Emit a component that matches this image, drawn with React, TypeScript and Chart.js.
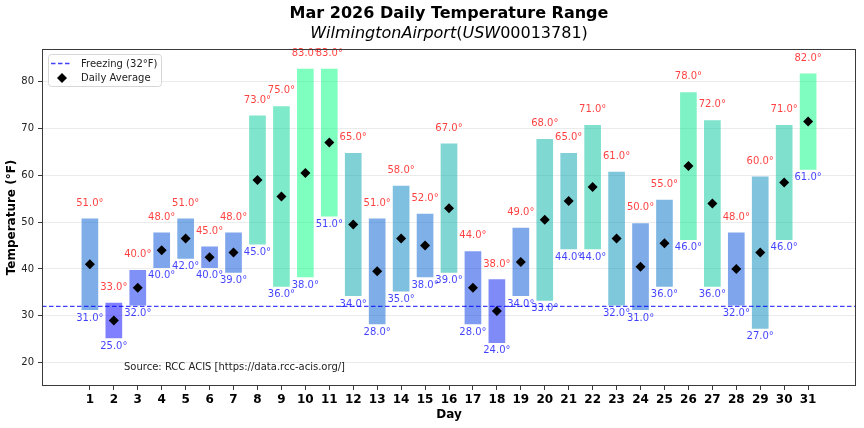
import React, { useEffect, useRef } from "react"
import { Chart, registerables } from "chart.js"

Chart.register(...registerables)

const days = [
  1, 2, 3, 4, 5, 6, 7, 8, 9, 10, 11, 12, 13, 14, 15, 16, 17, 18, 19, 20, 21,
  22, 23, 24, 25, 26, 27, 28, 29, 30, 31,
]
const highs = [
  51, 33, 40, 48, 51, 45, 48, 73, 75, 83, 83, 65, 51, 58, 52, 67, 44, 38, 49,
  68, 65, 71, 61, 50, 55, 78, 72, 48, 60, 71, 82,
]
const lows = [
  31, 25, 32, 40, 42, 40, 39, 45, 36, 38, 51, 34, 28, 35, 38, 39, 28, 24, 34,
  33, 44, 44, 32, 31, 36, 46, 36, 32, 27, 46, 61,
]
const averages = [
  41, 29, 36, 44, 46.5, 42.5, 43.5, 59, 55.5, 60.5, 67, 49.5, 39.5, 46.5, 45,
  53, 36, 31, 41.5, 50.5, 54.5, 57.5, 46.5, 40.5, 45.5, 62, 54, 40, 43.5, 58.5,
  71.5,
]
const yTicks = [20, 30, 40, 50, 60, 70, 80]
const freezing = 32

const title = "Mar 2026 Daily Temperature Range"
// mathtext-style subtitle: letters italic, digits and brackets upright
const subtitleParts: [string, boolean][] = [
  ["WilmingtonAirport", true],
  ["(", false],
  ["USW", true],
  ["00013781)", false],
]
const sourceText = "Source: RCC ACIS [https://data.rcc-acis.org/]"

const FONT = "'DejaVu Sans', sans-serif"

// matplotlib "winter" colormap, normalised on the daily highs
const winter = (v: number, lo: number, hi: number, alpha: number) => {
  const t = Math.max(0, Math.min(1, (v - lo) / (hi - lo)))
  const g = Math.round(255 * t)
  const b = Math.round(255 * (1 - 0.5 * t))
  return `rgba(0, ${g}, ${b}, ${alpha})`
}

const decorPlugin = {
  id: "decor",
  afterDatasetDraw(chart: any, args: any) {
    if (args.meta.type !== "bar") return
    const { ctx, chartArea } = chart
    const y = chart.scales.y.getPixelForValue(freezing)
    ctx.save()
    ctx.strokeStyle = "rgba(0, 0, 255, 0.75)"
    ctx.lineWidth = 1.3
    ctx.setLineDash([4.5, 2.5])
    ctx.beginPath()
    ctx.moveTo(chartArea.left, y)
    ctx.lineTo(chartArea.right, y)
    ctx.stroke()
    ctx.restore()
  },
  afterDraw(chart: any) {
    const { ctx, chartArea } = chart
    const xs = chart.scales.x
    const ys = chart.scales.y
    ctx.save()

    // value labels
    ctx.font = `10px ${FONT}`
    ctx.textAlign = "center"
    days.forEach((d, i) => {
      const px = xs.getPixelForValue(d)
      ctx.fillStyle = "rgba(255, 0, 0, 0.75)"
      ctx.textBaseline = "bottom"
      ctx.fillText(`${highs[i].toFixed(1)}°`, px, ys.getPixelForValue(highs[i] + 2))
      ctx.fillStyle = "rgba(0, 0, 255, 0.75)"
      ctx.textBaseline = "top"
      ctx.fillText(`${lows[i].toFixed(1)}°`, px, ys.getPixelForValue(lows[i] - 0.4))
    })

    // frame
    ctx.strokeStyle = "#3a3a3a"
    ctx.lineWidth = 1
    ctx.strokeRect(
      chartArea.left + 0.5,
      chartArea.top + 0.5,
      chartArea.right - chartArea.left - 1,
      chartArea.bottom - chartArea.top - 1
    )

    // legend
    const lx = chartArea.left + 6
    const ly = chartArea.top + 5
    const lw = 113
    const lh = 32
    ctx.beginPath()
    ctx.roundRect(lx + 0.5, ly + 0.5, lw, lh, 3)
    ctx.fillStyle = "rgba(255, 255, 255, 0.8)"
    ctx.fill()
    ctx.strokeStyle = "#d6d6d6"
    ctx.stroke()
    ctx.strokeStyle = "rgba(0, 0, 255, 0.75)"
    ctx.lineWidth = 1.3
    ctx.setLineDash([4.5, 2.5])
    ctx.beginPath()
    ctx.moveTo(lx + 3, ly + 9.5)
    ctx.lineTo(lx + 24, ly + 9.5)
    ctx.stroke()
    ctx.setLineDash([])
    const dx = lx + 14
    const dy = ly + 24
    ctx.fillStyle = "#000"
    ctx.beginPath()
    ctx.moveTo(dx - 5, dy)
    ctx.lineTo(dx, dy - 5)
    ctx.lineTo(dx + 5, dy)
    ctx.lineTo(dx, dy + 5)
    ctx.closePath()
    ctx.fill()
    ctx.fillStyle = "#222"
    ctx.font = `10px ${FONT}`
    ctx.textAlign = "left"
    ctx.textBaseline = "middle"
    ctx.fillText("Freezing (32°F)", lx + 33, ly + 10)
    ctx.fillText("Daily Average", lx + 33, ly + 24)

    // source note
    ctx.font = `10px ${FONT}`
    ctx.fillStyle = "#222"
    ctx.fillText(sourceText, 124, 367)

    // titles
    const cx = (chartArea.left + chartArea.right) / 2
    ctx.fillStyle = "#000"
    ctx.textAlign = "center"
    ctx.font = `bold 16px ${FONT}`
    ctx.fillText(title, cx, 14)
    const fontFor = (it: boolean) => `${it ? "italic " : ""}16px ${FONT}`
    let total = 0
    subtitleParts.forEach(([t, it]) => {
      ctx.font = fontFor(it)
      total += ctx.measureText(t).width
    })
    let x = cx - total / 2
    ctx.textAlign = "left"
    subtitleParts.forEach(([t, it]) => {
      ctx.font = fontFor(it)
      ctx.fillText(t, x, 34)
      x += ctx.measureText(t).width
    })
    ctx.restore()
  },
}

const App: React.FC = () => {
  const chartRef = useRef<HTMLCanvasElement | null>(null)

  useEffect(() => {
    if (!chartRef.current) return
    const ctx = chartRef.current.getContext("2d")
    if (!ctx) return
    const hiMin = Math.min(...highs)
    const hiMax = Math.max(...highs)

    const chartInstance = new Chart(ctx, {
      type: "bar",
      data: {
        datasets: [
          {
            type: "bar",
            label: "Range",
            data: days.map((d, i) => ({ x: d, y: [lows[i], highs[i]] })) as any,
            backgroundColor: highs.map((h) => winter(h, hiMin, hiMax, 0.5)),
            borderColor: "rgba(255, 255, 255, 0.45)",
            borderWidth: 1,
            borderSkipped: false,
            barPercentage: 0.78,
            categoryPercentage: 1,
            order: 2,
          },
          {
            type: "scatter",
            label: "Daily Average",
            data: days.map((d, i) => ({ x: d, y: averages[i] })),
            pointStyle: "rectRot",
            pointRadius: 5,
            backgroundColor: "#000",
            borderWidth: 0,
            order: 1,
          },
        ],
      },
      options: {
        responsive: false,
        animation: false,
        layout: { padding: { top: 49, right: 8, left: 0, bottom: 0 } },
        plugins: {
          legend: { display: false },
          title: { display: false },
          tooltip: { enabled: false },
        },
        scales: {
          x: {
            type: "linear",
            min: -1,
            max: 33,
            offset: false,
            afterBuildTicks: (scale: any) => {
              scale.ticks = days.map((d) => ({ value: d }))
            },
            afterFit: (scale: any) => {
              scale.height = 42
            },
            grid: {
              offset: false,
              drawOnChartArea: false,
              tickLength: 4,
              tickColor: "#3a3a3a",
            },
            border: { display: false },
            ticks: {
              autoSkip: false,
              maxRotation: 0,
              padding: 3,
              color: "#000",
              font: { family: FONT, size: 12, weight: "bold" },
              callback: (v: any) => String(v),
            },
            title: {
              display: true,
              text: "Day",
              color: "#000",
              font: { family: FONT, size: 12, weight: "bold" },
              padding: { top: 0, bottom: 6 },
            },
          },
          y: {
            min: 15,
            max: 87,
            afterBuildTicks: (scale: any) => {
              scale.ticks = yTicks.map((v) => ({ value: v }))
            },
            afterFit: (scale: any) => {
              scale.width = 42
            },
            grid: {
              color: "#ebebeb",
              tickColor: "#3a3a3a",
              tickLength: 4,
            },
            border: { display: false },
            ticks: {
              padding: 4,
              color: "#222",
              font: { family: FONT, size: 10 },
            },
            title: {
              display: true,
              text: "Temperature (°F)",
              color: "#000",
              font: { family: FONT, size: 12, weight: "bold" },
              padding: { top: 5, bottom: 0 },
            },
          },
        },
      },
      plugins: [decorPlugin],
    })

    return () => {
      chartInstance.destroy()
    }
  }, [])

  return (
    <div style={{ position: "fixed", left: 0, top: 0, width: 864, height: 428, background: "#fff" }}>
      <canvas ref={chartRef} width={864} height={428} />
    </div>
  )
}

export default App
